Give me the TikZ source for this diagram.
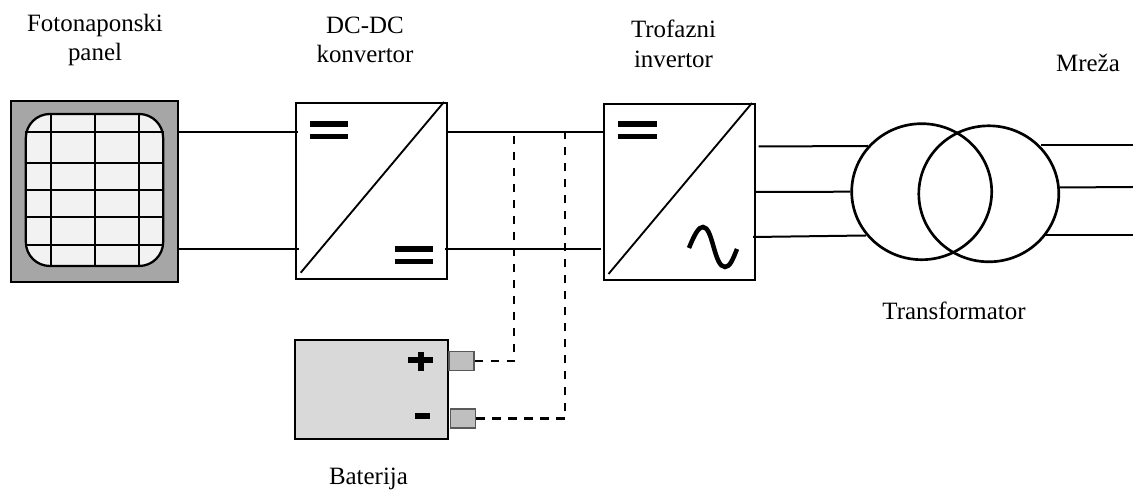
\documentclass[tikz,border=0pt]{standalone}
\usepackage{fontspec}
\setmainfont{Liberation Serif}
\definecolor{panelgray}{HTML}{A6A6A6}
\definecolor{cellgray}{HTML}{F2F2F2}
\definecolor{battgray}{HTML}{D9D9D9}
\definecolor{termgray}{HTML}{BFBFBF}
\definecolor{termedge}{HTML}{595959}
\usetikzlibrary{calc, shapes.geometric}
\tikzset{
  conv/.style={draw, line width=1.5pt, fill=white, minimum width=113pt, minimum height=132pt, inner sep=0pt},
  wire/.style={line width=1.5pt},
  dashwire/.style={line width=1.6pt, dash pattern=on 6.5pt off 5.5pt},
  dcbar/.style={line width=4.2pt},
  coil/.style={draw, line width=2pt, ellipse, inner sep=0pt, minimum width=105pt, minimum height=102pt},
  term/.style={draw=termedge, line width=1.2pt, fill=termgray, minimum width=18.5pt, minimum height=14pt, inner sep=0pt},
  lbl/.style={font=\fontsize{18.7}{22}\selectfont, align=center, inner sep=0pt}
}
\begin{document}
\begin{tikzpicture}[x=0.75pt, y=-0.75pt]
  \useasboundingbox (0,0) rectangle (1133,491);

  % Labels
  \node[lbl] (lblpanel) at (95, 40) {Fotonaponski\\panel};
  \node[lbl] (lbldcdc) at (365, 40.2) {DC-DC\\konvertor};
  \node[lbl] (lblinv) at (673.5, 44) {Trofazni\\invertor};
  \node[lbl] (lblgrid) at (1088, 63.3) {Mreža};
  \node[lbl] (lbltrafo) at (954, 310.5) {Transformator};
  \node[lbl] (lblbatt) at (368.5, 479) {Baterija};

  % Rows of the wires
  \coordinate (dcup) at (0, 132.5);
  \coordinate (dclow) at (0, 249);

  % Solar panel
  \node[draw, line width=1.5pt, fill=panelgray, minimum width=125pt, minimum height=136pt, inner sep=0pt] (panel) at (94.7, 191.3) {};
  \node[draw, line width=1.7pt, fill=cellgray, rounded corners=18pt, minimum width=103pt, minimum height=114pt, inner sep=0pt] (cells) at (94.5, 190) {};
  \foreach \x in {50.7, 94.7, 138.7}
    \draw[line width=1.5pt] (\x, 114) -- (\x, 266);
  \foreach \y in {132.3, 163.3, 190, 217, 245}
    \draw[line width=1.5pt] (cells.west |- 0,\y) -- (cells.east |- 0,\y);

  % Converters
  \node[conv] (dcdc) at (371.6, 190.7) {};
  \node[conv] (inv) at (679.5, 192) {};

  % Symbols in the DC-DC converter
  \draw[line width=1.4pt] (300.7, 272.7) -- (444, 102);
  \draw[dcbar] (310, 124.3) -- (348, 124.3);
  \draw[dcbar] (310, 136.7) -- (348, 136.7);
  \draw[dcbar] (395, 249.3) -- (433, 249.3);
  \draw[dcbar] (395, 261.7) -- (433, 261.7);

  % Symbols in the inverter
  \draw[line width=1.4pt] (608.5, 274) -- (752, 103);
  \draw[dcbar] (618, 124.3) -- (657, 124.3);
  \draw[dcbar] (618, 136.7) -- (657, 136.7);
  \draw[line width=3.4pt] (689, 248) .. controls (695, 233) and (699, 227) .. (703, 227)
    .. controls (713, 227) and (714, 267) .. (725, 267)
    .. controls (730, 267) and (733, 259) .. (737, 249);

  % Transformer
  \node[coil] (prim) at (921.7, 191.7) {};
  \node[coil] (sec) at (988.8, 193.8) {};

  % Battery
  \node[draw, line width=1.6pt, fill=battgray, minimum width=115pt, minimum height=74pt, inner sep=0pt] (batt) at (371.5, 389.5) {};
  \node[term] (plus) at (461.5, 361) {};
  \node[term] (minus) at (463, 418.5) {};
  \draw[line width=4.5pt] (408, 360) -- (433, 360);
  \draw[line width=4.5pt] (420.7, 352) -- (420.7, 371);
  \draw[line width=4.5pt] (415, 415.7) -- (430, 415.7);

  % Wires
  \draw[wire] (panel.east |- dcup) -- ([xshift=2pt]dcdc.west |- dcup);
  \draw[wire] (panel.east |- dclow) -- ([xshift=3pt]dcdc.west |- dclow);
  \draw[wire] (dcdc.east |- dcup) -- (inv.west |- dcup);
  \draw[wire] ([xshift=-2pt]dcdc.east |- dclow) -- ([xshift=-1.5pt]inv.west |- dclow);
  \draw[wire] ([xshift=2pt]inv.east |- 0,146.5) -- (868, 146);
  \draw[wire] (inv.east |- 0,192) -- (prim.west);
  \draw[wire] ([xshift=-2pt]inv.east |- 0,237) -- (866, 235.5);
  \draw[wire] (1041, 145) -- (1133, 145);
  \draw[wire] (sec.east |- 0,187.5) -- (1133, 187);
  \draw[wire] (1044, 235.5) -- (1133, 235.5);
  \draw[dashwire] (plus.east) -| (514, 136);
  \draw[dashwire] (minus.east) -| (565, 132.5);
\end{tikzpicture}
\end{document}
